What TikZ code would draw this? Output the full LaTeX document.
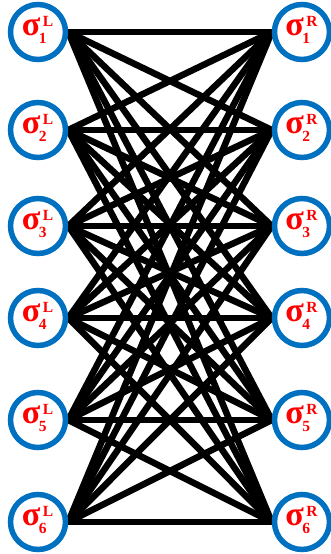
\documentclass[tikz,border=0pt]{standalone}
\usepackage{fontspec}
\setmainfont{Liberation Serif}
\usetikzlibrary{backgrounds}
\definecolor{ringblue}{HTML}{0070C0}
\definecolor{labred}{HTML}{FF0000}
\newcommand{\siglab}[2]{\fontsize{34}{34}\selectfont σ\fontsize{15.5}{15.5}\selectfont\kern-1.5pt\rlap{\raisebox{-8pt}{#2}}\kern4pt\raisebox{9pt}{#1}}
\begin{document}
\begin{tikzpicture}[x=1pt,y=-1pt,
  ring/.style={circle,draw=ringblue,line width=5.5pt,fill=white,minimum size=55pt,inner sep=0pt},
  link/.style={line width=6.5pt,black},
  lab/.style={text=labred,font=\bfseries,inner sep=0pt,anchor=base}]
\useasboundingbox (0,0) rectangle (331,554);
\foreach \i/\y in {1/32,2/130,3/226,4/318,5/420,6/522}{
  \node[ring] (L\i) at (38,\y) {};
  \node[ring] (R\i) at (302,\y) {};
  \node[lab] (tL\i) at (37.5,\y+3) {\siglab{L}{\i}};
  \node[lab] (tR\i) at (301.5,\y+3) {\siglab{R}{\i}};
}
\begin{scope}[on background layer]
\foreach \i in {1,...,6}{
  \foreach \j in {1,...,6}{
    \draw[link] (L\i.east) -- (R\j.west);
  }
}
\end{scope}
\end{tikzpicture}
\end{document}
